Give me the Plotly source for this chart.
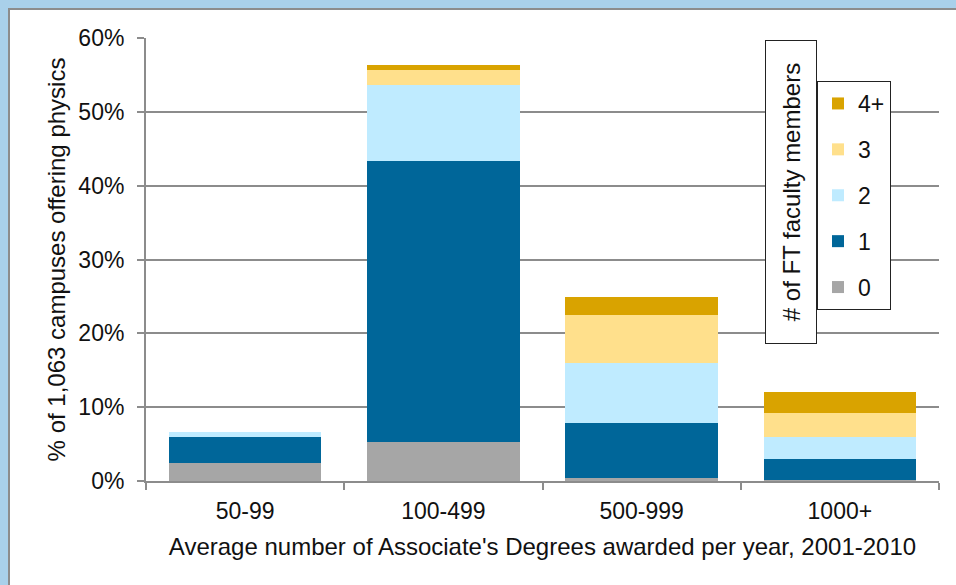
import plotly.graph_objects as go

categories = ["50-99", "100-499", "500-999", "1000+"]
series_names = ["0", "1", "2", "3", "4+"]
v0 = [2.5, 5.3, 0.4, 0.1]
v1 = [3.4, 38.1, 7.5, 2.9]
v2 = [0.7, 10.3, 8.1, 2.95]
v3 = [0.0, 2.0, 6.5, 3.3]
v4 = [0.0, 0.6, 2.4, 2.85]
colors = ["#A6A6A6", "#006699", "#BFEBFF", "#FFE08C", "#D9A300"]
y_ticks = [0, 10, 20, 30, 40, 50, 60]
y_ticklabels = [f"{t}%" for t in y_ticks]

series_values = [v0, v1, v2, v3, v4]

FONT = "Liberation Sans, Arial, sans-serif"
FS = 23
FT = 24

fig = go.Figure()
n = len(series_names)
for i, (name, vals, col) in enumerate(zip(series_names, series_values, colors)):
    fig.add_trace(go.Bar(
        x=categories, y=vals, name=name, legendgroup=name, legendrank=n - i,
        marker=dict(color=col, line=dict(width=0)),
    ))

# plot area pixel geometry
L, R, T, B = 146, 17, 38, 104
W, H = 956, 585
pw, ph = W - L - R, H - T - B

def px_x(p):
    return (p - L) / pw

def px_y(p):
    return (H - B - p) / ph

fig.add_shape(type="rect", xref="paper", yref="paper",
              x0=px_x(9), x1=px_x(1100), y0=px_y(9), y1=px_y(700),
              fillcolor="white", line=dict(color="#8C8C8C", width=2), layer="below")

fig.add_annotation(
    xref="paper", yref="paper", x=px_x(790.5), y=px_y(192.5),
    text="# of FT faculty members", textangle=-90, showarrow=False,
    font=dict(family=FONT, size=FT, color="#111111"),
    bordercolor="#222222", borderwidth=1, borderpad=0, bgcolor="white",
    width=302, height=50,
    xanchor="center", yanchor="middle",
)

fig.update_layout(
    width=W, height=H,
    margin=dict(l=L, r=R, t=T, b=B),
    barmode="stack", bargap=0.23,
    paper_bgcolor="#A9D0EA", plot_bgcolor="rgba(0,0,0,0)",
    font=dict(family=FONT, size=FS, color="#111111"),
    legend=dict(
        x=px_x(817), y=px_y(81), xanchor="left", yanchor="top",
        traceorder="grouped", tracegroupgap=13,
        bordercolor="#222222", borderwidth=1, bgcolor="white",
        font=dict(family=FONT, size=FS, color="#111111"),
        itemwidth=30,
    ),
    xaxis=dict(
        showline=True, linecolor="#8C8C8C", linewidth=2,
        ticks="outside", ticklen=7, tickcolor="#8C8C8C", tickwidth=2,
        tickson="boundaries",
        ticklabelstandoff=8,
        title=dict(text="Average number of Associate's Degrees awarded per year, 2001-2010",
                   font=dict(size=FT), standoff=16),
        tickfont=dict(size=FS),
    ),
    yaxis=dict(
        range=[0, 60], tickvals=y_ticks, ticktext=y_ticklabels,
        showline=True, linecolor="#8C8C8C", linewidth=2,
        ticks="outside", ticklen=7, tickcolor="#8C8C8C", tickwidth=2,
        showgrid=True, gridcolor="#8C8C8C", gridwidth=1.5,
        zeroline=False,
        ticklabelstandoff=8,
        title=dict(text="% of 1,063 campuses offering physics", font=dict(size=FT), standoff=6),
        tickfont=dict(size=FS),
    ),
)

fig.write_html("out.html", config={"displayModeBar": False},
               post_script="document.body.style.margin='0';document.body.style.padding='0';")
